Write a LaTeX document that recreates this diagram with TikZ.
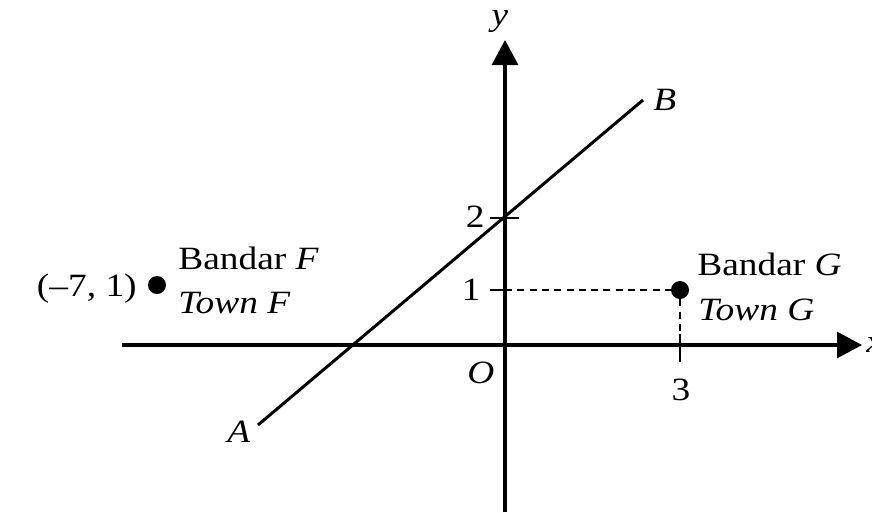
\documentclass[tikz,border=0pt]{standalone}
\usepackage{fontspec}
\setmainfont[FakeStretch=1.15]{Liberation Serif}
\usetikzlibrary{arrows.meta,positioning}

\begin{document}
\begin{tikzpicture}[x=0.02cm, y=-0.02cm,
    every node/.style={font=\fontsize{18.5}{21}\selectfont, inner sep=0pt},
    axisline/.style={line width=1.8pt, -{Triangle[length=0.5cm, width=0.52cm]}},
    tickline/.style={line width=1.5pt},
    guideline/.style={line width=1.3pt, dash pattern=on 4pt off 3pt},
    townpt/.style={circle, fill=black, inner sep=0pt, minimum size=0.36cm}]
    \useasboundingbox (0,0) rectangle (872,512);

    % =================== axes ===================
    \coordinate (xstart) at (122,345);
    \coordinate (xend) at (862,345);
    \coordinate (ystart) at (505,512);
    \coordinate (yend) at (505,40);
    \draw[axisline] (xstart) -- (xend);
    \draw[axisline] (ystart) -- (yend);
    \node[anchor=base west] (xlab) at (866,352) {\textit{x}};
    \node[anchor=base] (ylab) at (500,25) {\textit{y}};
    \node[anchor=base west] (olab) at (467,383) {\textit{O}};

    % ticks
    \coordinate (t2l) at (490,218);
    \coordinate (t2r) at (519,218);
    \coordinate (t1l) at (490,290);
    \coordinate (t1r) at (505,290);
    \coordinate (t3t) at (680,334);
    \coordinate (t3b) at (680,362);
    \draw[tickline] (t2l) -- (t2r);
    \draw[tickline] (t1l) -- (t1r);
    \draw[tickline] (t3t) -- (t3b);
    \node[anchor=base east] (lab2) at (485,227) {2};
    \node[anchor=base east] (lab1) at (481,300) {1};
    \node[anchor=base] (lab3) at (681,400) {3};

    % =================== line AB ===================
    \coordinate (A) at (258,425);
    \coordinate (B) at (643,100);
    \draw[line width=1.7pt] (A) -- (B);
    \node[anchor=base west] (alab) at (227,442) {\textit{A}};
    \node[anchor=base west] (blab) at (653,110) {\textit{B}};

    % =================== towns ===================
    \node[townpt] (F) at (157,285) {};
    \node[anchor=base east] (fxy) at (137,296) {(\textendash7, 1)};
    \node[anchor=base west] (fname) at (178,269) {Bandar \textit{F}};
    \node[anchor=base west] (ftown) at (178,313) {\textit{Town F}};

    \node[townpt] (G) at (680,290) {};
    \node[anchor=base west] (gname) at (697,275) {Bandar \textit{G}};
    \node[anchor=base west] (gtown) at (698,320) {\textit{Town G}};
    \coordinate (gfoot) at (680,345);
    \draw[guideline] (t1r) -- (G);
    \draw[guideline] (G) -- (gfoot);
\end{tikzpicture}
\end{document}
